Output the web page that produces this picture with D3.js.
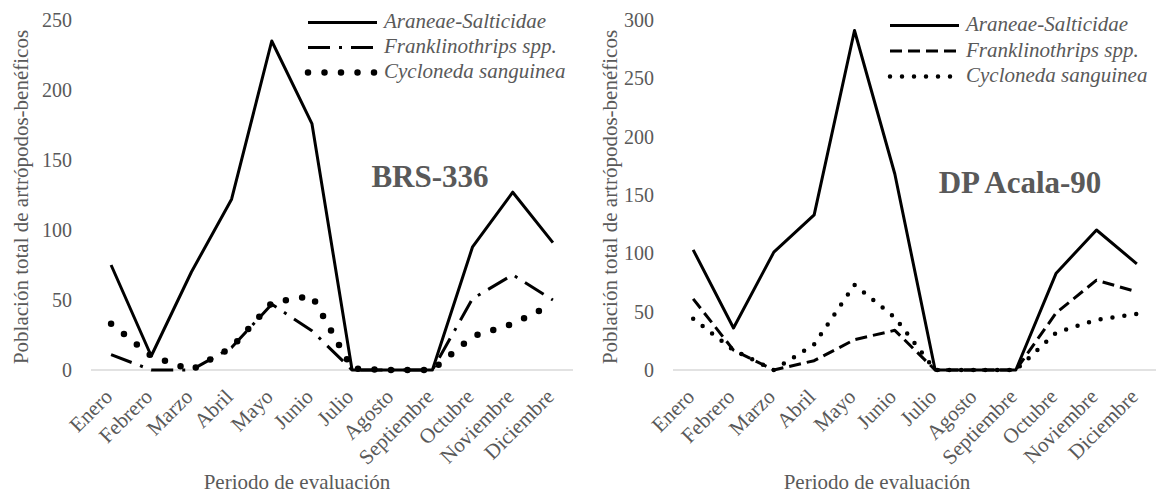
<!DOCTYPE html>
<html>
<head>
<meta charset="utf-8">
<style>
  body { margin: 0; background: #fff; }
  svg text { font-family: "Liberation Serif", "Times New Roman", serif; fill: #595959; }
</style>
</head>
<body>
<svg width="1156" height="494"></svg>
<script src="https://cdnjs.cloudflare.com/ajax/libs/d3/7.8.5/d3.min.js"></script>
<script>
// months on the x axis
var months = ["Enero", "Febrero", "Marzo", "Abril", "Mayo", "Junio", "Julio",
              "Agosto", "Septiembre", "Octubre", "Noviembre", "Diciembre"];
var seriesNames = ["Araneae-Salticidae", "Franklinothrips spp.", "Cycloneda sanguinea"];

// BRS-336
var brsAraneae = [75, 10, 70, 122, 235, 176, 0, 0, 0, 88, 127, 91];
var brsFrank   = [11, 0, 0, 16, 47, 28, 0, 0, 0, 51, 68, 50];
var brsCyclo   = [33, 10, 0, 16, 48, 53, 1, 0, 0, 24, 33, 47];
var brsTicks   = [0, 50, 100, 150, 200, 250];

// DP Acala-90
var dpAraneae = [103, 36, 101, 133, 291, 168, 0, 0, 0, 83, 120, 91];
var dpFrank   = [61, 17, 0, 8, 26, 34, 0, 0, 0, 49, 77, 67];
var dpCyclo   = [44, 17, 0, 22, 73, 45, 0, 0, 0, 32, 43, 48];
var dpTicks   = [0, 50, 100, 150, 200, 250, 300];

var svg = d3.select("svg");
var serif = "'Liberation Serif', 'Times New Roman', serif";

function drawPanel(p) {
  var x = d3.scalePoint().domain(months).range([p.x0, p.x1]).padding(0.5);
  var y = d3.scaleLinear().domain([0, d3.max(p.ticks)]).range([370, 20]);
  var g = svg.append("g").attr("font-family", serif);

  // y axis labels only
  var ya = g.append("g")
      .attr("transform", "translate(" + p.x0 + ",0)")
      .call(d3.axisLeft(y).tickValues(p.ticks).tickSize(0).tickPadding(19))
      .attr("font-family", serif);
  ya.select(".domain").remove();
  ya.selectAll("text").style("font-size", "20px").attr("fill", "#595959");

  // zero line
  g.append("line")
      .attr("x1", p.x0).attr("x2", p.x1)
      .attr("y1", y(0)).attr("y2", y(0))
      .attr("stroke", "#d9d9d9").attr("stroke-width", 1.5);

  // month labels
  var xa = g.append("g")
      .attr("transform", "translate(0," + y(0) + ")")
      .call(d3.axisBottom(x).tickSize(0))
      .attr("font-family", serif);
  xa.select(".domain").remove();
  xa.selectAll("text")
      .style("font-size", "21px")
      .attr("fill", "#595959")
      .attr("x", 0).attr("y", 0).attr("dy", 0)
      .attr("text-anchor", "end")
      .attr("transform", "translate(2,28) rotate(-45)");

  var line = d3.line()
      .x(function(d, i) { return x(months[i]); })
      .y(function(d) { return y(d); });

  p.series.forEach(function(s) {
    g.append("path")
        .datum(s.values)
        .attr("fill", "none")
        .attr("stroke", "#000")
        .attr("stroke-width", s.width)
        .attr("stroke-dasharray", s.dash)
        .attr("stroke-linecap", s.cap)
        .attr("stroke-linejoin", "round")
        .attr("d", line);
  });

  // legend
  var lg = g.append("g");
  p.series.forEach(function(s, i) {
    var by = p.legY + i * p.legStep;
    lg.append("line")
        .attr("x1", p.legX).attr("x2", p.legX + 69)
        .attr("y1", by - 5.5).attr("y2", by - 5.5)
        .attr("stroke", "#000")
        .attr("stroke-width", s.width)
        .attr("stroke-dasharray", s.dash)
        .attr("stroke-linecap", s.cap);
    lg.append("text")
        .attr("x", p.legX + 76).attr("y", by)
        .style("font-size", "21px")
        .style("font-style", "italic")
        .text(seriesNames[i]);
  });

  // variety label
  g.append("text")
      .attr("x", p.labelX).attr("y", p.labelY)
      .attr("text-anchor", "middle")
      .style("font-size", "31px")
      .style("font-weight", "bold")
      .text(p.label);

  // axis titles
  g.append("text")
      .attr("transform", "translate(" + p.yTitleX + ",197) rotate(-90)")
      .attr("text-anchor", "middle")
      .style("font-size", "21px")
      .text("Población total de artrópodos-benéficos");

  g.append("text")
      .attr("x", p.xTitleX).attr("y", 489)
      .attr("text-anchor", "middle")
      .style("font-size", "21px")
      .text("Periodo de evaluación");
}

drawPanel({
  x0: 91, x1: 573, ticks: brsTicks,
  legX: 308, legY: 28, legStep: 25,
  label: "BRS-336", labelX: 430, labelY: 187,
  yTitleX: 28, xTitleX: 297,
  series: [
    { values: brsAraneae, width: 3, dash: null, cap: "butt" },
    { values: brsFrank, width: 3, dash: "22,9,3,9", cap: "butt" },
    { values: brsCyclo, width: 6.5, dash: "0,16.5", cap: "round" }
  ]
});

drawPanel({
  x0: 673, x1: 1157, ticks: dpTicks,
  legX: 890, legY: 31, legStep: 25.5,
  label: "DP Acala-90", labelX: 1020, labelY: 193,
  yTitleX: 617, xTitleX: 877,
  series: [
    { values: dpAraneae, width: 3, dash: null, cap: "butt" },
    { values: dpFrank, width: 3, dash: "12,6", cap: "butt" },
    { values: dpCyclo, width: 4.5, dash: "0,12", cap: "round" }
  ]
});
</script>
</body>
</html>
